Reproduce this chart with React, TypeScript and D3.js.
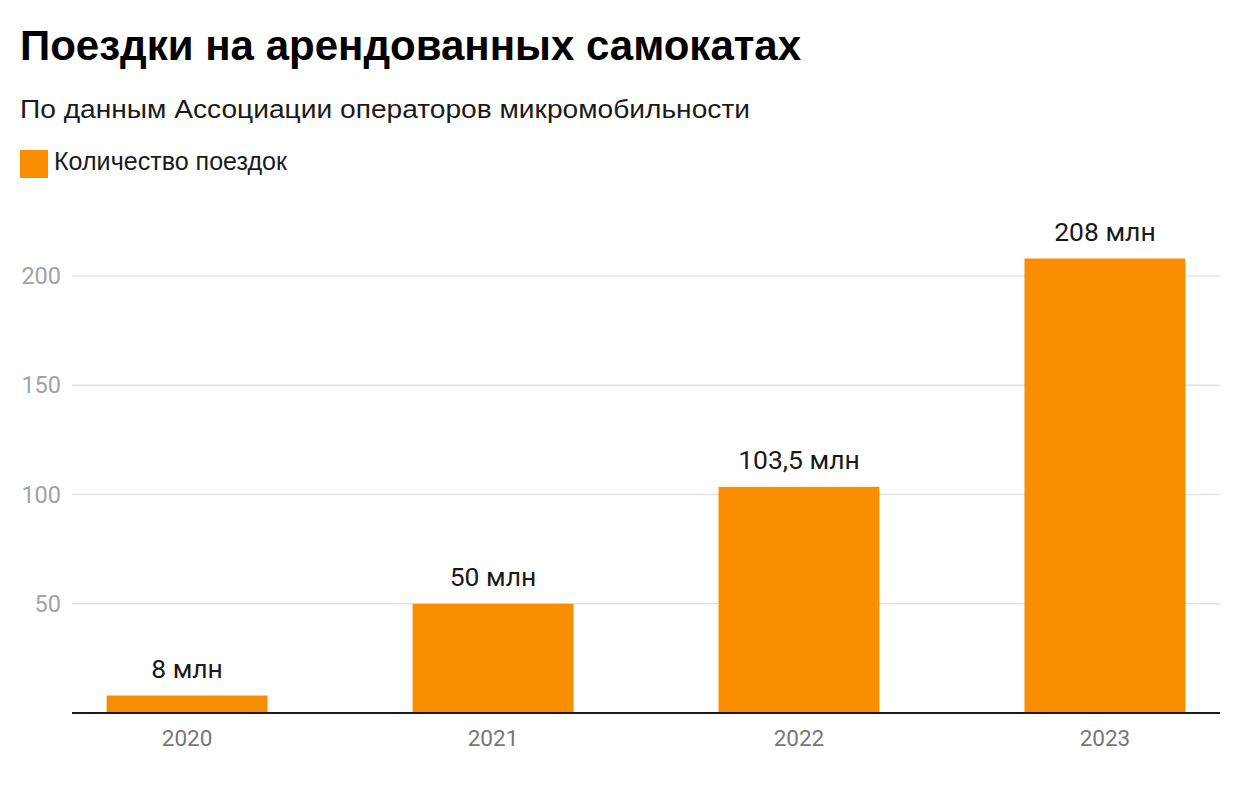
import React from "react";
import * as d3 from "d3";

const years = ["2020", "2021", "2022", "2023"];
const trips = [8, 50, 103.5, 208];
const valueLabels = ["8 млн", "50 млн", "103,5 млн", "208 млн"];
const yTicks = [50, 100, 150, 200];

const W = 1240;
const H = 785;
const margin = { left: 72, right: 20 };
const baseY = 713;

export default function App() {
  const x = d3
    .scaleBand<string>()
    .domain(years)
    .range([margin.left, W - margin.right])
    .paddingInner(0.474)
    .paddingOuter(0.113);
  const y = d3.scaleLinear().domain([0, 200]).range([baseY, 276]);

  return (
    <svg
      width={W}
      height={H}
      style={{ position: "absolute", left: 0, top: 0, background: "#fff" }}
    >
      <text
        x={20}
        y={60}
        fontFamily="'Liberation Sans', Arial, sans-serif"
        fontWeight="bold"
        fontSize={42}
        fill="#000"
      >
        Поездки на арендованных самокатах
      </text>
      <text
        x={20}
        y={118}
        fontFamily="'Liberation Sans', Arial, sans-serif"
        fontSize={26}
        fill="#1a1a1a"
        textLength={730}
        lengthAdjust="spacingAndGlyphs"
      >
        По данным Ассоциации операторов микромобильности
      </text>
      <rect x={20} y={150} width={28} height={28} fill="#f88e00" />
      <text
        x={54}
        y={170}
        fontFamily="'Liberation Sans', Arial, sans-serif"
        fontSize={25}
        fill="#1a1a1a"
        textLength={233}
        lengthAdjust="spacingAndGlyphs"
      >
        Количество поездок
      </text>

      {yTicks.map((t) => (
        <g key={t}>
          <line
            x1={margin.left}
            x2={W - margin.right}
            y1={y(t)}
            y2={y(t)}
            stroke="#e3e3e3"
            strokeWidth={1.5}
          />
          <text
            x={61}
            y={y(t) + 8}
            textAnchor="end"
            fontFamily="Roboto, sans-serif"
            fontSize={23.5}
            fill="#a3a3a3"
          >
            {t}
          </text>
        </g>
      ))}

      {years.map((yr, i) => (
        <g key={yr}>
          <rect
            x={x(yr)}
            y={y(trips[i])}
            width={x.bandwidth()}
            height={baseY - y(trips[i])}
            fill="#f88e00"
          />
          <text
            x={(x(yr) as number) + x.bandwidth() / 2}
            y={y(trips[i]) - 17.5}
            textAnchor="middle"
            fontFamily="Roboto, sans-serif"
            fontSize={26.5}
            fill="#1a1a1a"
          >
            {valueLabels[i]}
          </text>
          <text
            x={(x(yr) as number) + x.bandwidth() / 2}
            y={746}
            textAnchor="middle"
            fontFamily="Roboto, sans-serif"
            fontSize={22.5}
            fill="#777"
          >
            {yr}
          </text>
        </g>
      ))}

      <line
        x1={margin.left}
        x2={W - margin.right}
        y1={baseY}
        y2={baseY}
        stroke="#1a1a1a"
        strokeWidth={2}
      />
    </svg>
  );
}
